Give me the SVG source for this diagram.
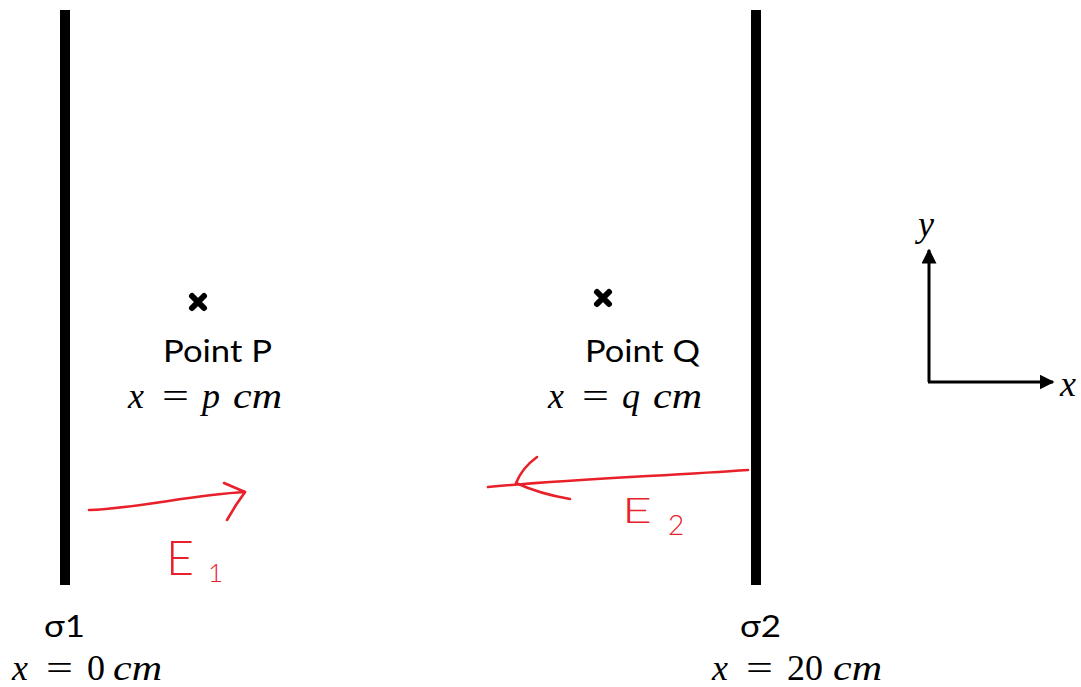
<svg xmlns="http://www.w3.org/2000/svg" width="1081" height="687" viewBox="0 0 1081 687">
<style>
.plate{stroke:#000;stroke-width:10}
.lbl{font-family:Lato,"Open Sans",sans-serif;font-size:30px;fill:#000}
.math{font-family:"Liberation Serif","DejaVu Serif",serif;font-size:36px;fill:#000}
.it{font-style:italic}
.red{fill:none;stroke:#e8202a;stroke-width:2.6;stroke-linecap:round;stroke-linejoin:round}
.redt{font-family:Lato,"Liberation Sans",sans-serif;fill:#e8202a;font-weight:300}
.ax{stroke:#000;stroke-width:3;fill:none}
.cross{stroke:#000;stroke-width:6;stroke-linecap:round}
</style>
<defs>
<marker id="ah" viewBox="0 0 10 10" refX="9" refY="5" markerWidth="5" markerHeight="5" orient="auto" markerUnits="strokeWidth">
<path d="M0,0 L10,5 L0,10 z" fill="#000"/>
</marker>
</defs>
<rect width="1081" height="687" fill="#fff"/>
<g id="plate1">
<line class="plate" x1="65" y1="10" x2="65" y2="585"/>
<text class="lbl" x="44" y="637" textLength="41" lengthAdjust="spacingAndGlyphs">σ1</text>
<text class="math" y="680"><tspan class="it" x="12">x</tspan><tspan x="46" textLength="27" lengthAdjust="spacingAndGlyphs">=</tspan><tspan x="87">0</tspan><tspan class="it" x="113" textLength="49" lengthAdjust="spacingAndGlyphs">cm</tspan></text>
</g>
<g id="plate2">
<line class="plate" x1="756" y1="10" x2="756" y2="585"/>
<text class="lbl" x="740" y="637" textLength="41" lengthAdjust="spacingAndGlyphs">σ2</text>
<text class="math" y="680"><tspan class="it" x="712">x</tspan><tspan x="746" textLength="27" lengthAdjust="spacingAndGlyphs">=</tspan><tspan x="787">20</tspan><tspan class="it" x="833" textLength="49" lengthAdjust="spacingAndGlyphs">cm</tspan></text>
</g>
<g id="pointP">
<path class="cross" d="M192,296 L204,308 M204,296 L192,308"/>
<text class="lbl" x="163" y="362" textLength="109" lengthAdjust="spacingAndGlyphs">Point P</text>
<text class="math" y="408"><tspan class="it" x="128">x</tspan><tspan x="162" textLength="27" lengthAdjust="spacingAndGlyphs">=</tspan><tspan class="it" x="202">p</tspan><tspan class="it" x="233" textLength="49" lengthAdjust="spacingAndGlyphs">cm</tspan></text>
</g>
<g id="pointQ">
<path class="cross" d="M597,292 L609,304 M609,292 L597,304"/>
<text class="lbl" x="585" y="362" textLength="115" lengthAdjust="spacingAndGlyphs">Point Q</text>
<text class="math" y="408"><tspan class="it" x="548">x</tspan><tspan x="582" textLength="27" lengthAdjust="spacingAndGlyphs">=</tspan><tspan class="it" x="622">q</tspan><tspan class="it" x="653" textLength="49" lengthAdjust="spacingAndGlyphs">cm</tspan></text>
</g>
<g id="axes">
<line class="ax" x1="929" y1="382" x2="929" y2="250" marker-end="url(#ah)"/>
<line class="ax" x1="928" y1="382" x2="1053" y2="382" marker-end="url(#ah)"/>
<text class="math it" x="918" y="236">y</text>
<text class="math it" x="1060" y="396">x</text>
</g>
<g id="connectors">
<path class="red" d="M89,510 C140,508 190,495 245,492"/>
<path class="red" d="M224,483 L245,492 L236,505 L227,520"/>
<path class="red" d="M748,470 C660,476 560,480 488,487"/>
<path class="red" d="M537,457 Q522,468 516,483 Q540,494 570,499"/>
</g>
<g id="E1">
<text class="redt" x="166" y="575" font-size="48" textLength="28" lengthAdjust="spacingAndGlyphs">E</text>
<text class="redt" x="208" y="582" font-size="26" font-weight="400">1</text>
</g>
<g id="E2">
<text class="redt" x="622" y="523" font-size="36" textLength="30" lengthAdjust="spacingAndGlyphs">E</text>
<text class="redt" x="668" y="535" font-size="28" font-weight="400">2</text>
</g>
</svg>
